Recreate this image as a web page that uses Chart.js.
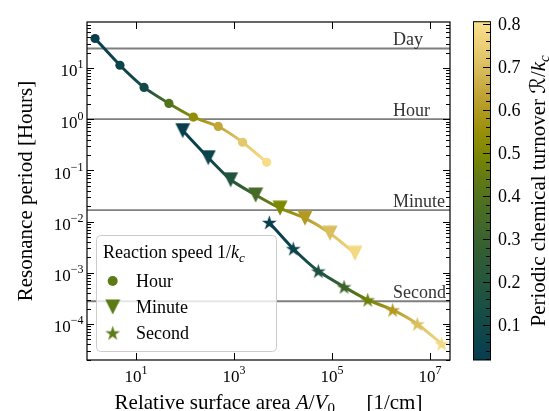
<!DOCTYPE html>
<html>
<head>
<meta charset="utf-8">
<script src="https://cdn.jsdelivr.net/npm/chart.js@4.4.1/dist/chart.umd.min.js"></script>
<style>
  html, body { margin: 0; padding: 0; background: #fff; }
  canvas { display: block; }
</style>
</head>
<body>
<canvas id="chart" width="549" height="411"></canvas>
<script>
// relative surface area A/V0 [1/cm], resonance period [hours], turnover R/kc
const hourArea = [1.46, 4.7, 14.6, 47, 148, 477, 1500, 4650];
const hourPeriod = [37.6, 11.3, 4.17, 2.03, 1.1, 0.72, 0.354, 0.1435];
const hourTurnover = [0.03, 0.06, 0.1, 0.4, 0.54, 0.64, 0.73, 0.79];

const minuteArea = [89.8, 299, 855, 2770, 8690, 28100, 91000, 294000];
const minutePeriod = [0.6, 0.177, 0.0657, 0.033, 0.0183, 0.01166, 0.00593, 0.0024];
const minuteTurnover = [0.03, 0.06, 0.18, 0.35, 0.5, 0.6, 0.7, 0.78];

const secondArea = [5250, 16200, 52500, 176000, 536000, 1.73e6, 5.5e6, 1.73e7];
const secondPeriod = [0.0096, 0.00295, 0.00108, 5.3e-4, 2.95e-4, 1.88e-4, 1e-4, 4.1e-5];
const secondTurnover = [0.03, 0.06, 0.16, 0.31, 0.47, 0.6, 0.7, 0.78];

const refPeriods = [24, 1, 1 / 60, 1 / 3600];
const refLabels = ['Day', 'Hour', 'Minute', 'Second'];

const xTickExps = [1, 3, 5, 7];
const yTickExps = [-4, -3, -2, -1, 0, 1];
const cbTicks = [0.1, 0.2, 0.3, 0.4, 0.5, 0.6, 0.7, 0.8];
const legendLabels = ['Hour', 'Minute', 'Second'];

const X_MIN = 1, X_MAX = 2.56e7;
const Y_MIN = 1.98e-5, Y_MAX = 79;
const CB_MIN = 0.0186, CB_MAX = 0.805;

const SERIF = '"Liberation Serif", "DejaVu Serif", "DejaVu Sans", serif';

// colour map of the colour bar (value -> rgb)
const stops = [
  [0.00, [7, 58, 80]], [0.05, [11, 65, 77]], [0.10, [18, 73, 73]], [0.15, [27, 80, 67]],
  [0.20, [37, 86, 61]], [0.25, [47, 91, 55]], [0.30, [58, 98, 47]], [0.35, [70, 106, 39]],
  [0.40, [82, 114, 30]], [0.45, [101, 124, 16]], [0.50, [126, 136, 2]], [0.55, [152, 143, 10]],
  [0.60, [178, 153, 34]], [0.65, [198, 169, 62]], [0.70, [218, 190, 94]], [0.75, [235, 207, 118]],
  [0.80, [250, 224, 140]], [1.0, [255, 235, 160]]
];
function cmap(v) {
  for (let i = 1; i < stops.length; i++) {
    if (v <= stops[i][0]) {
      const a = stops[i - 1], b = stops[i];
      const t = Math.max(0, (v - a[0]) / (b[0] - a[0]));
      const c = a[1].map((ch, k) => Math.round(ch + (b[1][k] - ch) * t));
      return 'rgb(' + c.join(',') + ')';
    }
  }
  return 'rgb(' + stops[stops.length - 1][1].join(',') + ')';
}

function triangleImg(color) {
  const s = 16;
  const c = document.createElement('canvas');
  c.width = s; c.height = s;
  const g = c.getContext('2d');
  g.fillStyle = color;
  g.beginPath();
  g.moveTo(0.5, 0.5); g.lineTo(s - 0.5, 0.5); g.lineTo(s / 2, s - 0.5);
  g.closePath(); g.fill();
  return c;
}
function starImg(color) {
  const R = 7.8, s = 17;
  const c = document.createElement('canvas');
  c.width = s; c.height = s;
  const g = c.getContext('2d');
  g.fillStyle = color;
  g.translate(s / 2, s / 2 + 0.6);
  g.beginPath();
  for (let i = 0; i < 10; i++) {
    const r = i % 2 ? R * 0.382 : R;
    const a = -Math.PI / 2 + i * Math.PI / 5;
    g.lineTo(r * Math.cos(a), r * Math.sin(a));
  }
  g.closePath(); g.fill();
  return c;
}

const canvas = document.getElementById('chart');
const ctx = canvas.getContext('2d');

function segGradient(vals) {
  return s => {
    const g = ctx.createLinearGradient(s.p0.x, s.p0.y, s.p1.x, s.p1.y);
    g.addColorStop(0, cmap(vals[s.p0DataIndex]));
    g.addColorStop(1, cmap(vals[s.p1DataIndex]));
    return g;
  };
}

function series(xs, ys, vals, style) {
  return {
    data: xs.map((x, i) => ({ x: x, y: ys[i] })),
    borderWidth: 3,
    borderCapStyle: 'round',
    borderJoinStyle: 'round',
    tension: 0.2,
    segment: { borderColor: segGradient(vals) },
    borderColor: cmap(vals[0]),
    pointBackgroundColor: vals.map(cmap),
    pointBorderWidth: 0,
    pointStyle: style === 'circle' ? 'circle' : vals.map(v => style(cmap(v))),
    pointRadius: style === 'circle' ? 4.6 : 8
  };
}

const datasets = [
  series(hourArea, hourPeriod, hourTurnover, 'circle'),
  series(minuteArea, minutePeriod, minuteTurnover, triangleImg),
  series(secondArea, secondPeriod, secondTurnover, starImg)
];
refPeriods.forEach(p => {
  datasets.push({
    data: [{ x: X_MIN, y: p }, { x: X_MAX, y: p }],
    borderColor: '#7f7f7f',
    borderWidth: 1.8,
    pointRadius: 0
  });
});

// rich text: runs of {t, size, italic, dy}
function drawRuns(c, runs, x, y, align) {
  let w = 0;
  runs.forEach(r => {
    c.font = (r.italic ? 'italic ' : '') + r.size + 'px ' + SERIF;
    r.w = c.measureText(r.t).width;
    w += r.w;
  });
  let cx = align === 'right' ? x - w : align === 'center' ? x - w / 2 : x;
  c.textAlign = 'left';
  c.textBaseline = 'alphabetic';
  runs.forEach(r => {
    c.font = (r.italic ? 'italic ' : '') + r.size + 'px ' + SERIF;
    c.fillText(r.t, cx, y + (r.dy || 0));
    cx += r.w;
  });
}
function pow10(e) {
  return [{ t: '10', size: 17 }, { t: String(e).replace('-', '\u2212'), size: 12, dy: -8 }];
}

const decor = {
  id: 'decor',
  afterDatasetsDraw(chart) {
    const c = chart.ctx, a = chart.chartArea;
    const xs = chart.scales.x, ys = chart.scales.y;
    c.save();
    c.fillStyle = '#333';
    refPeriods.forEach((p, i) => {
      drawRuns(c, [{ t: refLabels[i], size: 18 }], 393, ys.getPixelForValue(p) - 3.5, 'left');
    });
    // frame
    c.strokeStyle = '#000';
    c.lineWidth = 1.2;
    c.strokeRect(a.left, a.top, a.right - a.left, a.bottom - a.top);
    c.lineWidth = 1;
    c.beginPath();
    xTickExps.forEach(e => {
      const px = Math.round(xs.getPixelForValue(Math.pow(10, e))) + 0.5;
      c.moveTo(px, a.bottom); c.lineTo(px, a.bottom - 7);
      c.moveTo(px, a.top); c.lineTo(px, a.top + 7);
    });
    for (let e = -5; e <= 1; e++) {
      for (let k = 1; k <= 9; k++) {
        const v = k * Math.pow(10, e);
        if (v < Y_MIN || v > Y_MAX) continue;
        const py = Math.round(ys.getPixelForValue(v)) + 0.5;
        const len = k === 1 ? 7 : 4;
        c.moveTo(a.left, py); c.lineTo(a.left + len, py);
        c.moveTo(a.right, py); c.lineTo(a.right - len, py);
      }
    }
    c.stroke();
    c.fillStyle = '#000';
    xTickExps.forEach(e => {
      drawRuns(c, pow10(e), xs.getPixelForValue(Math.pow(10, e)), 382, 'center');
    });
    yTickExps.forEach(e => {
      drawRuns(c, pow10(e), 83.5, ys.getPixelForValue(Math.pow(10, e)) + 8.5, 'right');
    });
    // axis titles
    drawRuns(c, [
      { t: 'Relative surface area ', size: 21 },
      { t: 'A', size: 21, italic: true }, { t: '/', size: 21 }, { t: 'V', size: 21, italic: true },
      { t: '0', size: 15, dy: 4 },
      { t: '      [1/cm]', size: 21 }
    ], (a.left + a.right) / 2, 409, 'center');
    c.save();
    c.translate(32, (a.top + a.bottom) / 2);
    c.rotate(-Math.PI / 2);
    drawRuns(c, [{ t: 'Resonance period [Hours]', size: 21 }], 0, 0, 'center');
    c.restore();
    c.restore();
  },
  afterDraw(chart) {
    const c = chart.ctx;
    c.save();
    // legend
    const lx = 96.5, ly = 235.5, lw = 180, lh = 116;
    c.beginPath();
    c.roundRect(lx, ly, lw, lh, 4);
    c.fillStyle = 'rgba(255,255,255,0.8)';
    c.fill();
    c.strokeStyle = '#cccccc';
    c.lineWidth = 1;
    c.stroke();
    c.fillStyle = '#000';
    drawRuns(c, [
      { t: 'Reaction speed 1/', size: 18 }, { t: 'k', size: 18, italic: true },
      { t: 'c', size: 13, italic: true, dy: 4 }
    ], 103, 258, 'left');
    const legColor = '#5b7b17';
    const rowsY = [281, 307, 333];
    c.fillStyle = legColor;
    c.beginPath();
    c.arc(112.7, rowsY[0], 5, 0, Math.PI * 2);
    c.fill();
    const t = triangleImg(legColor), s = starImg(legColor);
    c.drawImage(t, 112.7 - t.width / 2, rowsY[1] - t.height / 2);
    c.drawImage(s, 112.7 - s.width / 2, rowsY[2] - s.height / 2);
    c.fillStyle = '#000';
    legendLabels.forEach((l, i) => drawRuns(c, [{ t: l, size: 18 }], 136, rowsY[i] + 6, 'left'));

    // colour bar
    const x0 = 473, x1 = 490, y0 = 21.7, y1 = 360;
    const vy = v => y1 - (v - CB_MIN) / (CB_MAX - CB_MIN) * (y1 - y0);
    const g = c.createLinearGradient(0, y1, 0, y0);
    for (let i = 0; i <= 40; i++) {
      const v = CB_MIN + (CB_MAX - CB_MIN) * i / 40;
      g.addColorStop(i / 40, cmap(v));
    }
    c.fillStyle = g;
    c.fillRect(x0, y0, x1 - x0, y1 - y0);
    c.strokeStyle = '#000';
    c.lineWidth = 1;
    c.strokeRect(x0 + 0.5, y0, x1 - x0, y1 - y0);
    c.beginPath();
    for (let k = 1; k <= 40; k++) {
      const v = k * 0.02;
      const py = Math.round(vy(v)) + 0.5;
      const len = k % 5 === 0 ? 7 : 4;
      c.moveTo(x1, py); c.lineTo(x1 - len, py);
    }
    c.stroke();
    c.fillStyle = '#000';
    cbTicks.forEach(v => drawRuns(c, [{ t: v.toFixed(1), size: 18 }], 498, vy(v) + 6, 'left'));
    c.save();
    c.translate(545, (y0 + y1) / 2);
    c.rotate(-Math.PI / 2);
    drawRuns(c, [
      { t: 'Periodic chemical turnover ', size: 21 },
      { t: '\u211B', size: 21 }, { t: '/', size: 21 }, { t: 'k', size: 21, italic: true },
      { t: 'c', size: 15, italic: true, dy: 4 }
    ], 0, 0, 'center');
    c.restore();
    c.restore();
  }
};

const chart = new Chart(ctx, {
  type: 'line',
  data: { datasets: datasets },
  options: {
    responsive: false,
    devicePixelRatio: 1,
    animation: false,
    events: [],
    layout: { padding: { left: 0, top: 22, right: 99, bottom: 0 } },
    plugins: { legend: { display: false }, tooltip: { enabled: false } },
    scales: {
      x: {
        type: 'logarithmic', min: X_MIN, max: X_MAX,
        grid: { display: false }, border: { display: false },
        ticks: { display: false },
        afterFit: s => { s.height = 51; }
      },
      y: {
        type: 'logarithmic', min: Y_MIN, max: Y_MAX,
        grid: { display: false }, border: { display: false },
        ticks: { display: false },
        afterFit: s => { s.width = 87; }
      }
    }
  },
  plugins: [decor]
});
</script>
</body>
</html>
